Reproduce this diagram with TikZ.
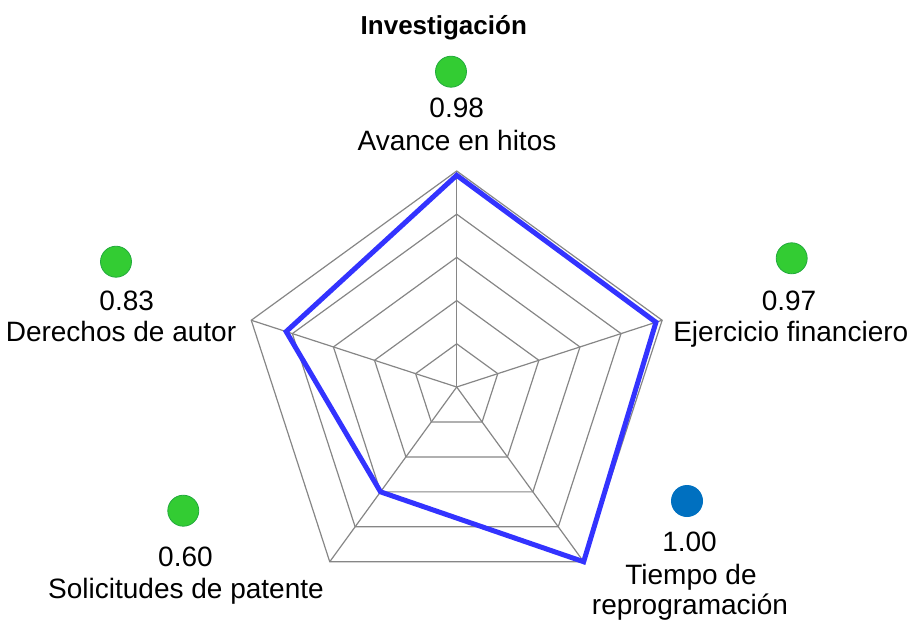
\documentclass[tikz,border=0pt]{standalone}
\usepackage{fontspec}
\setmainfont{Liberation Sans}
\usepackage{tikz}

\definecolor{gridgray}{RGB}{134,134,134}
\definecolor{serieblue}{RGB}{51,51,255}
\definecolor{okgreen}{RGB}{51,204,51}
\definecolor{okgreenline}{RGB}{34,170,60}
\definecolor{topblue}{RGB}{0,112,192}

\tikzset{
  ring/.style={draw=gridgray, line width=1.2pt},
  serie/.style={draw=serieblue, line width=5pt},
  lbl/.style={anchor=base, inner sep=0pt, font=\fontsize{28}{32}\selectfont},
  dotgreen/.style={circle, fill=okgreen, draw=okgreenline, line width=0.8pt, minimum size=31pt, inner sep=0pt},
  dotblue/.style={circle, fill=topblue, minimum size=32pt, inner sep=0pt}
}

\begin{document}
\begin{tikzpicture}[x=1pt,y=1pt]
\useasboundingbox (-456.7,-232) rectangle (456.3,387);
\coordinate (o) at (0,0);

% rejilla
\draw[ring] (90:43.2) -- (18:43.2) -- (-54:43.2) -- (-126:43.2) -- (162:43.2) -- cycle;
\draw[ring] (90:86.4) -- (18:86.4) -- (-54:86.4) -- (-126:86.4) -- (162:86.4) -- cycle;
\draw[ring] (90:129.6) -- (18:129.6) -- (-54:129.6) -- (-126:129.6) -- (162:129.6) -- cycle;
\draw[ring] (90:172.8) -- (18:172.8) -- (-54:172.8) -- (-126:172.8) -- (162:172.8) -- cycle;
\draw[ring] (90:216) -- (18:216) -- (-54:216) -- (-126:216) -- (162:216) -- cycle;
\draw[ring] (o) -- (90:216);
\draw[ring] (o) -- (18:216);
\draw[ring] (o) -- (-54:216);
\draw[ring] (o) -- (-126:216);
\draw[ring] (o) -- (162:216);

% serie
\draw[serie] (90:211.7) -- (18:209.5) -- (-54:216) -- (-126:129.6) -- (162:179.3) -- cycle;

% titulo
\node[anchor=base, inner sep=0pt, font=\fontsize{26}{30}\selectfont\bfseries] (title) at (-12.9,352.7) {Investigación};

% etiquetas
\node[dotgreen] (dotavance) at (-5.7,315.3) {};
\node[lbl] (valavance) at (0,269) {0.98};
\node[lbl] (lblavance) at (0.3,236.3) {Avance en hitos};

\node[dotgreen] (dotejercicio) at (335,128.7) {};
\node[lbl] (valejercicio) at (332.3,77) {0.97};
\node[lbl] (lblejercicio) at (334.1,45.3) {Ejercicio financiero};

\node[dotblue] (dottiempo) at (230.3,-114) {};
\node[lbl] (valtiempo) at (232.8,-164) {1.00};
\node[lbl] (lbltiempo) at (234.3,-197) {Tiempo de};
\node[lbl] (lbltiempob) at (233.3,-227.5) {reprogramación};

\node[dotgreen] (dotpatente) at (-273.4,-123.7) {};
\node[lbl] (valpatente) at (-271.2,-179) {0.60};
\node[lbl] (lblpatente) at (-270.7,-211) {Solicitudes de patente};

\node[dotgreen] (dotautor) at (-340.7,125.3) {};
\node[lbl] (valautor) at (-330,77) {0.83};
\node[lbl] (lblautor) at (-335.7,45.3) {Derechos de autor};
\end{tikzpicture}
\end{document}
